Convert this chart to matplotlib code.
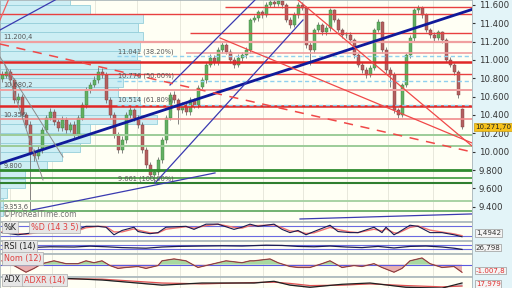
import numpy as np
import matplotlib
matplotlib.use("Agg")
from matplotlib import pyplot as plt

# daily candles (index = trading day)
opens = [10790, 10830, 10870, 10780, 10560, 10600, 10400, 10290, 9990, 9950,
         10020, 10240, 10370, 10430, 10320, 10260, 10350, 10240, 10290, 10180,
         10370, 10510, 10670, 10730, 10780, 10870, 10840, 10560, 10400, 10180,
         10020, 10130, 10400, 10450, 10370, 10290, 10020, 9860, 9750, 9780,
         9910, 10130, 10370, 10620, 10560, 10450, 10510, 10430, 10560, 10510,
         10700, 10780, 10950, 11020, 10980, 11110, 11160, 11090, 11000, 10950,
         11020, 11050, 11110, 11440, 11460, 11520, 11490, 11600, 11630, 11610,
         11640, 11600, 11440, 11380, 11490, 11600, 11570, 11160, 11110, 11330,
         11380, 11300, 11350, 11540, 11440, 11330, 11270, 11270, 11220, 11050,
         10950, 10890, 10840, 10910, 11330, 11410, 11110, 10890, 10840, 10450,
         10400, 10730, 11050, 11240, 11540, 11570, 11490, 11330, 11270, 11240,
         11300, 11220, 11000, 10950, 10870, 10460]
closes = [10836, 10869, 10782, 10564, 10597, 10400, 10291, 9990, 9950, 10018,
          10237, 10367, 10433, 10324, 10258, 10346, 10237, 10291, 10182, 10367,
          10509, 10673, 10727, 10782, 10869, 10836, 10564, 10400, 10182, 10018,
          10128, 10400, 10454, 10367, 10291, 10018, 9855, 9746, 9779, 9910,
          10128, 10367, 10618, 10564, 10454, 10509, 10433, 10564, 10509, 10695,
          10782, 10945, 11021, 10978, 11109, 11163, 11087, 11000, 10945, 11021,
          11054, 11109, 11436, 11458, 11523, 11490, 11600, 11632, 11610, 11643,
          11600, 11436, 11381, 11490, 11600, 11567, 11163, 11109, 11327, 11381,
          11305, 11349, 11545, 11436, 11327, 11272, 11272, 11218, 11054, 10945,
          10891, 10836, 10912, 11327, 11414, 11109, 10891, 10836, 10454, 10400,
          10727, 11054, 11240, 11545, 11567, 11490, 11327, 11272, 11240, 11305,
          11218, 11000, 10945, 10869, 10618, 10272]
highs = [10880, 10900, 10900, 10800, 10640, 10630, 10430, 10330, 10030, 10060,
         10270, 10400, 10480, 10460, 10360, 10390, 10380, 10320, 10330, 10400,
         10540, 10700, 10760, 10820, 10920, 10910, 10870, 10600, 10430, 10210,
         10170, 10430, 10490, 10480, 10400, 10320, 10050, 9890, 9810, 9940,
         10160, 10400, 10650, 10660, 10590, 10540, 10540, 10600, 10590, 10730,
         10810, 10980, 11060, 11050, 11140, 11200, 11190, 11120, 11030, 11060,
         11090, 11140, 11460, 11490, 11550, 11550, 11630, 11660, 11660, 11660,
         11660, 11620, 11470, 11520, 11630, 11630, 11590, 11200, 11350, 11410,
         11400, 11380, 11570, 11560, 11460, 11350, 11310, 11300, 11240, 11080,
         10980, 10920, 10940, 11350, 11450, 11430, 11140, 10920, 10870, 10480,
         10750, 11080, 11270, 11570, 11600, 11590, 11510, 11350, 11300, 11330,
         11320, 11240, 11030, 10970, 10890, 10480]
lows = [10760, 10800, 10750, 10530, 10530, 10370, 10260, 9354, 9900, 9920,
        9990, 10210, 10340, 10290, 10220, 10230, 10200, 10210, 10150, 10150,
        10340, 10480, 10640, 10700, 10750, 10800, 10530, 10370, 10150, 9990,
        9990, 10100, 10370, 10330, 10260, 9990, 9820, 9720, 9661, 9750,
        9880, 10100, 10340, 10530, 10300, 10420, 10400, 10400, 10480, 10480,
        10670, 10750, 10920, 10950, 10950, 11080, 11060, 10970, 10910, 10920,
        10990, 11020, 11080, 11410, 11430, 11460, 11470, 11580, 11580, 11590,
        11570, 11410, 11350, 11360, 11460, 11540, 11130, 10945, 11080, 11300,
        11270, 11270, 11320, 11410, 11300, 11240, 11240, 11190, 11020, 10920,
        10860, 10800, 10810, 10890, 11300, 11080, 10860, 10700, 10420, 10370,
        10380, 10700, 11020, 11210, 11510, 11460, 11300, 11240, 11210, 11220,
        11190, 10980, 10920, 10840, 10580, 10250]

# volume by price (bins of 100 pts, starting at 9300)
vp_bottom = np.arange(9300, 11700, 100)
vp_volume = [3, 3, 7, 25, 25, 47, 62, 80, 90, 90, 157, 140, 140, 118,
             123, 140, 140, 137, 140, 143, 138, 143, 90, 70]

# horizontal levels: (price, first day, colour, width)
red_levels = [(11578, 55.75, '#e84040', 1.0), (11498, -1, '#e84040', 1.0),
              (11294, 47, '#e84040', 1.0), (11196, -1, '#f0a0a0', 1.6),
              (11080, 46, '#f0a0a0', 1.2), (10973, -1, '#e02828', 1.8),
              (10847, -1, '#e84040', 1.0), (10676, -1, '#f0a0a0', 1.4),
              (10495, -1, '#e02828', 1.8), (10356, -1, '#f08c8c', 1.2)]
fib_levels = [11041, 10776, 10514]
fib_labels = ['11.041 (38.20%)', '10.776 (50.00%)', '10.514 (61.80%)']
green_levels = [(10185, '#9ccc98', 1.4), (10062, '#9ccc98', 1.4), (9800, '#2e8b2e', 2.0),
                (9717, '#3d9a3d', 1.2), (9659, '#2f7f2f', 1.5), (9466, '#a8d2a4', 1.4),
                (9353, '#5aa55a', 1.2)]

# trend lines: ((day0, price0), (day1, price1), colour, width, style)
trend_lines = [((-0.5, 9871), (117.5, 11551), '#101a9a', 2.0, '-'),
               ((-0.5, 11327), (20, 11814), '#3a3ab0', 0.9, '-'),
               ((42, 10727), (67, 11818), '#3a3ab0', 0.9, '-'),
               ((38.25, 9658), (75.25, 11436), '#3a3ab0', 0.9, '-'),
               ((7.5, 9364), (53.25, 9768), '#3a3ab0', 0.9, '-'),
               ((74.5, 9266), (117.5, 9321), '#3a3ab0', 0.9, '-'),
               ((-0.5, 11436), (3, 11800), '#f06060', 0.9, '-'),
               ((-0.5, 11174), (117.5, 9997), '#f04848', 1.1, (0, (6, 5))),
               ((54.5, 11240), (117.5, 10095), '#f04848', 0.9, '-'),
               ((74, 11654), (117.5, 10062), '#f04848', 0.9, '-'),
               ((-0.5, 11033), (15.25, 9942), '#8a8a8a', 0.7, '-'),
               ((0.75, 10945), (10.25, 9691), '#8a8a8a', 0.7, '-')]

level_labels = [(0.3, 11200, '11.200,4'), (0.3, 10680, '10.680,2'), (0.3, 10356, '10.356'),
                (0.3, 9800, '9.800'), (0.3, 9353, '9.353,6'), (28.9, 9659, '9.661 (100.00%)')]

# indicators
stoch_x = [0, 4, 6, 8, 14, 16, 17, 19, 21, 24, 26, 28, 30, 33, 34, 37, 39, 41, 46, 48, 51, 54, 58, 60,
           62, 64, 68, 70, 72, 74, 76, 78, 82, 84, 87, 89, 93, 95, 96, 98, 99, 102, 104, 107, 110, 113, 115]
stoch_k = [41, 29, 35, 41, 76, 59, 41, 59, 76, 76, 71, 29, 53, 71, 47, 35, 41, 71, 76, 59, 88, 88, 59, 71,
           88, 76, 88, 59, 41, 53, 29, 47, 82, 47, 41, 41, 71, 41, 71, 29, 41, 82, 76, 41, 41, 29, 18]
stoch_d = [45, 35, 32, 38, 65, 66, 50, 52, 68, 76, 74, 45, 45, 62, 55, 40, 39, 60, 74, 66, 80, 88, 70, 66,
           80, 80, 84, 68, 50, 48, 36, 40, 70, 58, 45, 41, 60, 50, 62, 40, 38, 70, 78, 55, 44, 34, 24]
rsi_x = [8, 12, 18, 22, 26, 30, 36, 40, 44, 50, 55, 60, 66, 70, 74, 78, 82, 86, 90, 94, 98, 102, 106, 110, 113, 115]
rsi = [47, 52, 50, 57, 52, 45, 40, 50, 55, 58, 60, 58, 65, 63, 55, 52, 58, 50, 45, 55, 42, 55, 58, 50, 40, 30]
mom_x = [0, 3, 6, 8, 10, 13, 16, 19, 21, 23, 25, 27, 29, 31, 34, 36, 39, 40, 43, 46, 49, 51, 54, 56,
         60, 62, 63, 67, 69, 72, 74, 77, 80, 82, 85, 88, 90, 93, 95, 98, 100, 102, 104, 105, 107, 110, 113, 115]
mom = [500, -125, -1000, -500, 125, 500, 125, 125, 500, 250, 500, -125, -500, -375, -250, -500, -125, 500,
       750, 500, -375, -125, 250, 500, 250, 500, 500, 750, 250, -250, -375, -375, 125, 500, -375, -125,
       -250, 125, -375, -1000, -500, 500, 750, 875, 125, -375, -250, -1008]
adx_x = [14, 25, 40, 50, 63, 68, 72, 77, 85, 92, 101, 110, 115]
adx = [37.6, 33, 21, 26, 26, 30, 21, 16, 23, 26, 16, 14, 26]
adxr = [36, 35, 26, 24, 27, 28, 25, 20, 21, 24, 20, 17, 19]

grid_days = [2, 12.5, 23.25, 33.75, 44.5, 54.5, 65.25, 75.25, 86.25, 96.5, 107.75]

BG = '#fffff4'
fig = plt.figure(figsize=(5.12, 2.88), dpi=100, facecolor='#e3f4f8')


def px_axes(x0, y0, x1, y1):
    a = fig.add_axes([x0 / 512, 1 - y1 / 288, (x1 - x0) / 512, (y1 - y0) / 288])
    a.set_facecolor(BG)
    a.set_xlim(-0.5, 117.5)
    a.set_xticks([])
    for s in a.spines.values():
        s.set_color('#a8b4b8')
        s.set_linewidth(0.6)
    for g in grid_days:
        a.axvline(g, color='#e8e8dc', lw=0.7, zorder=0)
    return a


ax = px_axes(0, 0, 472, 221)
ax.set_ylim(9244, 11654)
days = np.arange(len(closes))

# volume profile
ax.barh(vp_bottom, np.array(vp_volume) * 0.25, height=100, left=-0.5, align='edge',
        color='#cdeef4', edgecolor='#96cfda', lw=0.6, zorder=1)

# candles
up = np.array(closes) >= np.array(opens)
ax.vlines(days, lows, highs, color='#707070', lw=0.6, zorder=2)
body_lo = np.minimum(opens, closes)
body_h = np.abs(np.array(closes) - np.array(opens))
ax.bar(days[up], body_h[up], bottom=body_lo[up], width=0.75, color='#62b062',
       edgecolor='#3d7d3d', lw=0.3, zorder=2)
ax.bar(days[~up], body_h[~up], bottom=body_lo[~up], width=0.75, color='#b46060',
       edgecolor='#7d3d3d', lw=0.3, zorder=2)

for price, start, col, w in red_levels:
    ax.hlines(price, start, 117.5, color=col, lw=w, zorder=3)
for price in fib_levels:
    ax.hlines(price, 28.75, 117.5, color='#8fd0ee', lw=1.0, ls=(0, (3, 2)), zorder=3)
for price, col, w in green_levels:
    ax.axhline(price, color=col, lw=w, zorder=3)
for (d0, p0), (d1, p1), col, w, ls in trend_lines:
    ax.plot([d0, d1], [p0, p1], color=col, lw=w, ls=ls, zorder=4)

for price, lab in zip(fib_levels, fib_labels):
    ax.text(28.9, price + 15, lab, fontsize=4.8, color='#555555', va='bottom', zorder=5)
for d, p, lab in level_labels:
    ax.text(d, p + 15, lab, fontsize=4.8, color='#555555', va='bottom', zorder=5)
ax.text(0.3, 9262, '\u00a9ProRealTime.com', fontsize=5.5, color='#777777', va='bottom', zorder=5)

ax.yaxis.tick_right()
ticks = np.arange(9400, 11601, 200)
ax.set_yticks(ticks)
ax.set_yticklabels([f"{t // 1000}.{t % 1000:03d}" for t in ticks])
ax.tick_params(axis='y', length=2, pad=3, labelsize=6.2, colors='#333333')
ax.text(1.006, (closes[-1] - 9244) / (11654 - 9244), '10.271,70', transform=ax.transAxes,
        fontsize=5.1, va='center', ha='left', color='#222222',
        bbox=dict(boxstyle='square,pad=0.12', fc='#f6c21c', ec='#c89a10', lw=0.5))

box = dict(boxstyle='square,pad=0.2', fc='#e6e6e6', ec='#aaaaaa', lw=0.5)


def right_box(a, frac, txt, col):
    a.text(1.008, frac, txt, transform=a.transAxes, fontsize=5.1, va='center', ha='left',
           color=col, bbox=dict(boxstyle='square,pad=0.12', fc='#f4f4f4', ec='#9a9a9a', lw=0.5))


# stochastic
ak = px_axes(0, 222, 472, 240)
ak.set_ylim(0, 100)
ak.set_yticks([])
ak.axhline(80, color='#6a6ae0', lw=0.8)
ak.axhline(20, color='#6a6ae0', lw=0.8)
ak.plot(stoch_x, stoch_d, color='#f07070', lw=1.0)
ak.plot(stoch_x, stoch_k, color='#1a1a50', lw=0.8)
ak.text(0.5, 72, '%K', fontsize=5.8, color='#222222', va='center', bbox=box)
ak.text(7.2, 72, '%D (14 3 5)', fontsize=5.8, color='#e04040', va='center', bbox=box)
right_box(ak, 0.4, '1,4942', '#333333')

# RSI
ar = px_axes(0, 241, 472, 253)
ar.set_ylim(0, 100)
ar.set_yticks([])
ar.axhline(70, color='#6a6ae0', lw=0.8)
ar.axhline(30, color='#6a6ae0', lw=0.8)
ar.plot(rsi_x, rsi, color='#1a1a50', lw=0.9)
ar.text(0.5, 55, 'RSI (14)', fontsize=5.8, color='#222222', va='center', bbox=box)
right_box(ar, 0.45, '26,798', '#333333')

# momentum
an = px_axes(0, 254, 472, 276)
an.set_ylim(-1500, 1400)
an.set_yticks([])
an.axhline(0, color='#5a5ae0', lw=0.8)
mx = np.array(mom_x)
my = np.array(mom)
an.fill_between(mx, my, 0, where=my >= 0, interpolate=True, color='#a8d8a0', lw=0)
an.fill_between(mx, my, 0, where=my <= 0, interpolate=True, color='#e8b0b0', lw=0)
an.plot(mx, my, color='#e05050', lw=0.9)
an.plot(mx, my, color='#404040', lw=0.4)
an.text(0.5, 800, 'Nom (12)', fontsize=5.8, color='#e04040', va='center', bbox=box)
right_box(an, 0.25, '-1.007,8', '#e03030')

# ADX
aa = px_axes(0, 277, 472, 289)
aa.set_ylim(12, 40)
aa.set_yticks([])
aa.fill_between(adx_x, adx, adxr, color='#9a9aa8', alpha=0.6, lw=0)
aa.plot(adx_x, adxr, color='#e05050', lw=0.9)
aa.plot(adx_x, adx, color='#202020', lw=0.9)
aa.text(0.5, 33, 'ADX', fontsize=5.8, color='#222222', va='center', bbox=box)
aa.text(5.5, 33, 'ADXR (14)', fontsize=5.8, color='#e04040', va='center', bbox=box)
right_box(aa, 0.4, '17,979', '#e03030')

fig.savefig('out.png', dpi=100, facecolor=fig.get_facecolor())
